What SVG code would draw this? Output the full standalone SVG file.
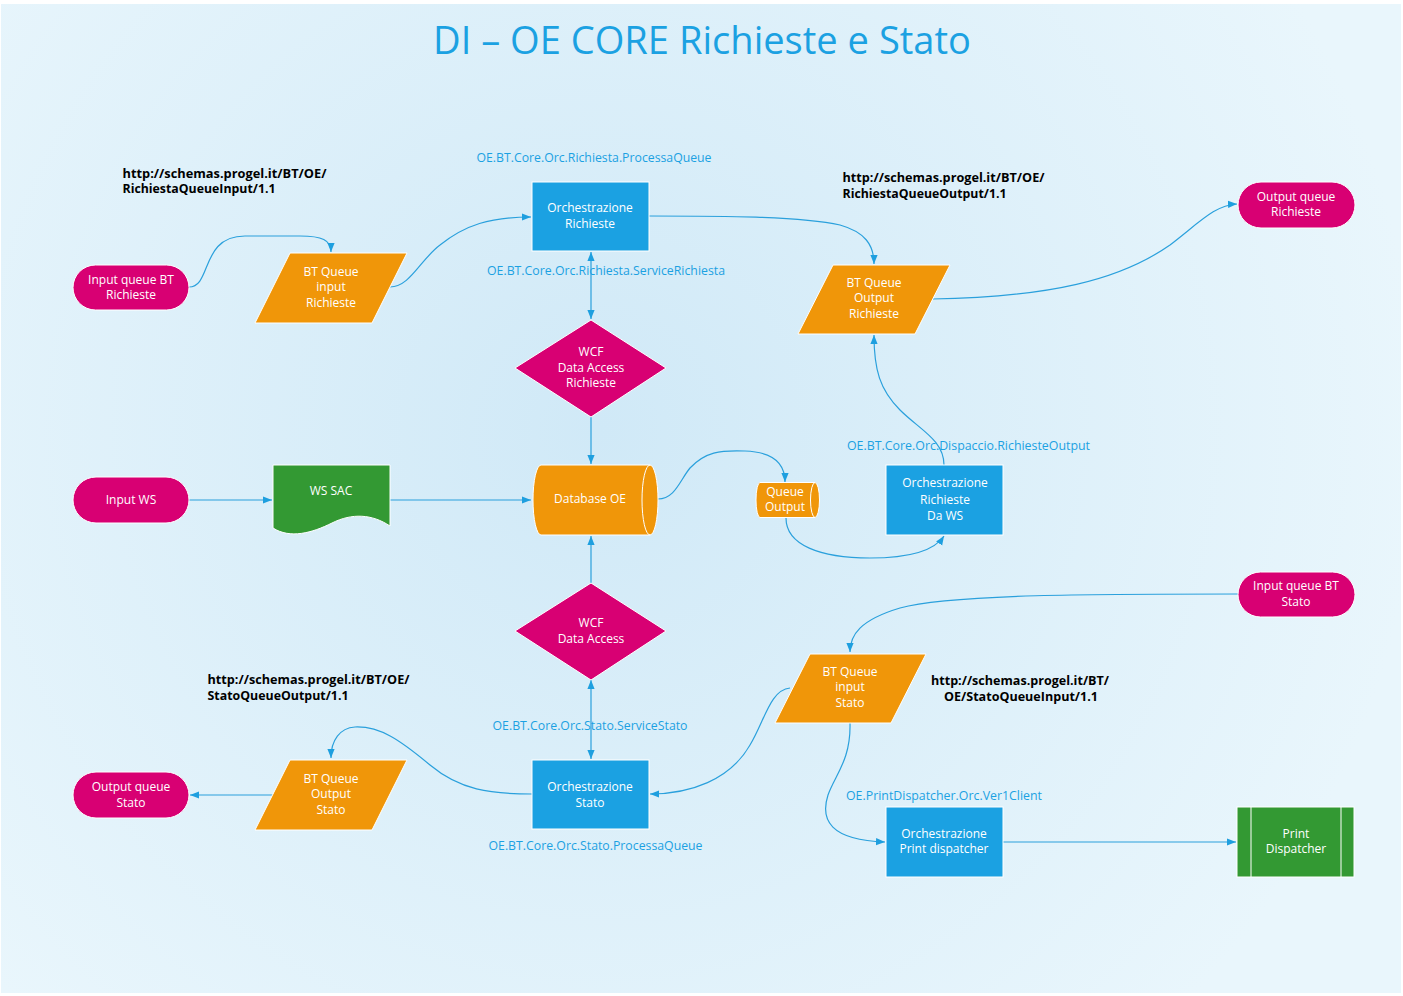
<svg xmlns="http://www.w3.org/2000/svg" width="1403" height="996" viewBox="0 0 1403 996">
<defs>
<radialGradient id="bg" gradientUnits="userSpaceOnUse" cx="600" cy="430" r="820">
<stop offset="0" stop-color="#d0e9f7"/>
<stop offset="1" stop-color="#e9f6fc"/>
</radialGradient>
<marker id="arr" viewBox="0 0 10 10" refX="10" refY="5" markerWidth="9" markerHeight="9" markerUnits="userSpaceOnUse" orient="auto-start-reverse">
<path d="M0,1 L10,5 L0,9 z" fill="#1e9fdf"/>
</marker>
<style>
.bg{fill:url(#bg)}
.t{font-family:"Open Sans","Noto Sans","DejaVu Sans",sans-serif;font-size:12px;fill:#fff;text-anchor:middle}
.lbl{font-family:"Open Sans","Noto Sans","DejaVu Sans",sans-serif;font-size:12px;fill:#1ba1e2}
.url{font-family:"Open Sans","Noto Sans","DejaVu Sans",sans-serif;font-size:12.5px;font-weight:bold;fill:#000}
.title{font-family:"Open Sans","Noto Sans","DejaVu Sans",sans-serif;font-size:38px;fill:#1ba1e2;text-anchor:middle}
.pill{fill:#d80073;stroke:#fff;stroke-width:1}
.orange{fill:#f09609;stroke:#fff;stroke-width:1}
.blue{fill:#1ba1e2;stroke:#fff;stroke-width:1}
.green{fill:#339933;stroke:#fff;stroke-width:1}
.mag{fill:#d80073;stroke:#fff;stroke-width:1}
.c{fill:none;stroke:#2aa0dc;stroke-width:1.2}
.ca{fill:none;stroke:#2aa0dc;stroke-width:1.2;marker-end:url(#arr)}
.cb{fill:none;stroke:#2aa0dc;stroke-width:1.2;marker-end:url(#arr);marker-start:url(#arr)}
.inner{fill:none;stroke:#fff;stroke-width:1}
</style>
</defs>
<rect x="1" y="4" width="1400" height="989" class="bg"/>
<text x="702" y="54" class="title" textLength="538" lengthAdjust="spacingAndGlyphs">DI – OE CORE Richieste e Stato</text>

<g id="connectors">
<path class="ca" d="M189,287 C212,287 200,236 245,236 L300,236 C322,236 331,240 331,252"/>
<path class="ca" d="M390,287 C410,287 420,260 440,245 C465,225 490,217 531,217"/>
<path class="ca" d="M649,216 C720,216 800,216 840,225 C865,232 874,245 874,264"/>
<path class="ca" d="M932,299 C1050,297 1120,280 1170,245 C1200,222 1215,205 1237,204"/>
<path class="ca" d="M944,465 C944,440 920,430 900,410 C880,390 874,370 874,335"/>
<path class="cb" d="M591,252 L591,319"/>
<path class="ca" d="M591,417 L591,464"/>
<path class="ca" d="M189,500 L272,500"/>
<path class="ca" d="M390,500 L531,500"/>
<path class="ca" d="M658,499 C675,499 680,480 690,468 C705,452 720,450 745,451 C775,452 785,465 785,482"/>
<path class="ca" d="M786,518 C786,545 820,558 870,558 C910,558 935,550 944,536"/>
<path class="ca" d="M591,583 L591,536"/>
<path class="cb" d="M591,680 L591,759"/>
<path class="ca" d="M1238,594 C1100,594 950,594 900,608 C860,620 850,635 850,652"/>
<path class="ca" d="M790,688 C770,690 765,720 750,745 C730,780 690,794 650,794"/>
<path class="ca" d="M532,794 C490,794 460,790 430,765 C400,740 380,726 355,727 C340,728 331,740 331,758"/>
<path class="ca" d="M273,795 L190,795"/>
<path class="ca" d="M850,723 C851,760 835,775 828,795 C820,820 830,840 885,842"/>
<path class="ca" d="M1003,842 L1236,842"/>
</g>

<g id="n-input-queue-bt-richieste">
<rect x="73" y="265" width="116" height="45" rx="22.5" class="pill"/>
<text class="t" x="131" y="284">Input queue BT</text>
<text class="t" x="131" y="299">Richieste</text>
</g>
<g id="n-bt-queue-input-richieste">
<polygon points="290,253 407,253 372,323 255,323" class="orange"/>
<text class="t" x="331" y="276">BT Queue</text>
<text class="t" x="331" y="291">input</text>
<text class="t" x="331" y="307">Richieste</text>
</g>
<g id="n-orch-richieste">
<rect x="532" y="182" width="117" height="69" class="blue"/>
<text class="t" x="590" y="212">Orchestrazione</text>
<text class="t" x="590" y="228">Richieste</text>
</g>
<g id="n-wcf-richieste">
<polygon points="591,320 666,368 591,417 515,368" class="mag"/>
<text class="t" x="591" y="356">WCF</text>
<text class="t" x="591" y="372">Data Access</text>
<text class="t" x="591" y="387">Richieste</text>
</g>
<g id="n-bt-queue-output-richieste">
<polygon points="833,265 950,265 915,334 798,334" class="orange"/>
<text class="t" x="874" y="287">BT Queue</text>
<text class="t" x="874" y="302">Output</text>
<text class="t" x="874" y="318">Richieste</text>
</g>
<g id="n-output-queue-richieste">
<rect x="1238" y="182" width="117" height="46" rx="23" class="pill"/>
<text class="t" x="1296" y="201">Output queue</text>
<text class="t" x="1296" y="216">Richieste</text>
</g>
<g id="n-input-ws">
<rect x="73" y="477" width="116" height="46" rx="23" class="pill"/>
<text class="t" x="131" y="504">Input WS</text>
</g>
<g id="n-ws-sac">
<path d="M273,465 H390 V526 C372,514 352,513 332,523 C312,533 290,539 273,528 Z" class="green"/>
<text class="t" x="331" y="495">WS SAC</text>
</g>
<g id="n-database-oe">
<path d="M541,465 L650,465 A8,35 0 0 1 650,535 L541,535 A8,35 0 0 1 541,465 Z" class="orange"/>
<path d="M650,465 A8,35 0 0 0 650,535" class="inner"/>
<text class="t" x="590" y="503">Database OE</text>
</g>
<g id="n-queue-output">
<path d="M760,482.5 L815,482.5 A4.5,17.5 0 0 1 815,517.5 L760,517.5 A4,17.5 0 0 1 760,482.5 Z" class="orange"/>
<path d="M815,482.5 A4.5,17.5 0 0 0 815,517.5" class="inner"/>
<text class="t" x="785" y="496">Queue</text>
<text class="t" x="785" y="511">Output</text>
</g>
<g id="n-orch-richieste-ws">
<rect x="886" y="465" width="117" height="70" class="blue"/>
<text class="t" x="945" y="487">Orchestrazione</text>
<text class="t" x="945" y="504">Richieste</text>
<text class="t" x="945" y="520">Da WS</text>
</g>
<g id="n-wcf-data-access">
<polygon points="591,583 666,631 591,680 515,631" class="mag"/>
<text class="t" x="591" y="627">WCF</text>
<text class="t" x="591" y="643">Data Access</text>
</g>
<g id="n-orch-stato">
<rect x="532" y="760" width="117" height="69" class="blue"/>
<text class="t" x="590" y="791">Orchestrazione</text>
<text class="t" x="590" y="807">Stato</text>
</g>
<g id="n-bt-queue-output-stato">
<polygon points="290,760 407,760 372,830 255,830" class="orange"/>
<text class="t" x="331" y="783">BT Queue</text>
<text class="t" x="331" y="798">Output</text>
<text class="t" x="331" y="814">Stato</text>
</g>
<g id="n-output-queue-stato">
<rect x="73" y="772" width="116" height="46" rx="23" class="pill"/>
<text class="t" x="131" y="791">Output queue</text>
<text class="t" x="131" y="807">Stato</text>
</g>
<g id="n-input-queue-bt-stato">
<rect x="1238" y="572" width="117" height="45" rx="22.5" class="pill"/>
<text class="t" x="1296" y="590">Input queue BT</text>
<text class="t" x="1296" y="606">Stato</text>
</g>
<g id="n-bt-queue-input-stato">
<polygon points="810,654 926,654 891,723 775,723" class="orange"/>
<text class="t" x="850" y="676">BT Queue</text>
<text class="t" x="850" y="691">input</text>
<text class="t" x="850" y="707">Stato</text>
</g>
<g id="n-orch-print">
<rect x="886" y="807" width="117" height="70" class="blue"/>
<text class="t" x="944" y="838">Orchestrazione</text>
<text class="t" x="944" y="853">Print dispatcher</text>
</g>
<g id="n-print-dispatcher">
<rect x="1237" y="807" width="117" height="70" class="green"/>
<line x1="1251" y1="807" x2="1251" y2="877" class="inner"/>
<line x1="1341" y1="807" x2="1341" y2="877" class="inner"/>
<text class="t" x="1296" y="838">Print</text>
<text class="t" x="1296" y="853">Dispatcher</text>
</g>

<g id="labels">
<text class="lbl" x="476.5" y="161.5" textLength="235" lengthAdjust="spacingAndGlyphs">OE.BT.Core.Orc.Richiesta.ProcessaQueue</text>
<text class="lbl" x="487" y="274.5" textLength="238" lengthAdjust="spacingAndGlyphs">OE.BT.Core.Orc.Richiesta.ServiceRichiesta</text>
<text class="lbl" x="847" y="450" textLength="243" lengthAdjust="spacingAndGlyphs">OE.BT.Core.Orc.Dispaccio.RichiesteOutput</text>
<text class="lbl" x="492.5" y="730" textLength="195" lengthAdjust="spacingAndGlyphs">OE.BT.Core.Orc.Stato.ServiceStato</text>
<text class="lbl" x="488.5" y="850" textLength="214" lengthAdjust="spacingAndGlyphs">OE.BT.Core.Orc.Stato.ProcessaQueue</text>
<text class="lbl" x="846" y="800" textLength="196" lengthAdjust="spacingAndGlyphs">OE.PrintDispatcher.Orc.Ver1Client</text>
<text class="url" x="122.5" y="177.5" textLength="204" lengthAdjust="spacingAndGlyphs">http://schemas.progel.it/BT/OE/</text>
<text class="url" x="122.5" y="193" textLength="153" lengthAdjust="spacingAndGlyphs">RichiestaQueueInput/1.1</text>
<text class="url" x="842.5" y="181.5" textLength="202" lengthAdjust="spacingAndGlyphs">http://schemas.progel.it/BT/OE/</text>
<text class="url" x="842.5" y="197.5" textLength="164" lengthAdjust="spacingAndGlyphs">RichiestaQueueOutput/1.1</text>
<text class="url" x="207.5" y="683.5" textLength="202" lengthAdjust="spacingAndGlyphs">http://schemas.progel.it/BT/OE/</text>
<text class="url" x="207.5" y="699.5" textLength="141" lengthAdjust="spacingAndGlyphs">StatoQueueOutput/1.1</text>
<text class="url" x="931" y="684.5" textLength="178" lengthAdjust="spacingAndGlyphs">http://schemas.progel.it/BT/</text>
<text class="url" x="944" y="700.5" textLength="154" lengthAdjust="spacingAndGlyphs">OE/StatoQueueInput/1.1</text>
</g>
</svg>
